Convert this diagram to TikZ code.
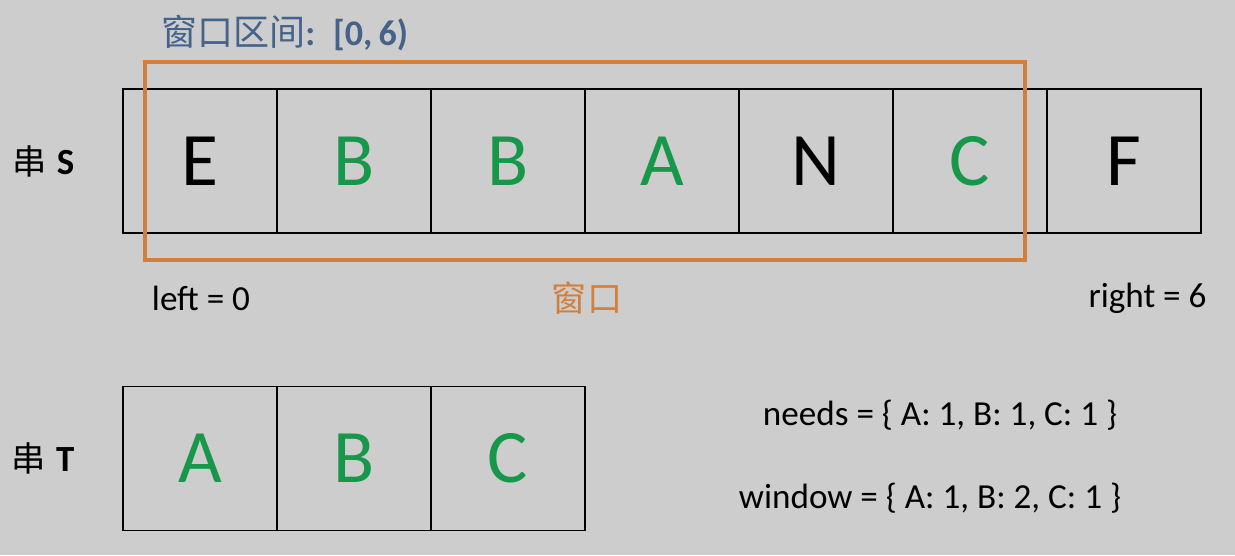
\documentclass[tikz,border=0pt]{standalone}
\usepackage{fontspec}
\setmainfont{Carlito}
\newfontfamily\cjk{Noto Sans CJK SC}
\usetikzlibrary{positioning}
\definecolor{bggray}{HTML}{CDCDCD}
\definecolor{wingreen}{HTML}{17974A}
\definecolor{winorange}{HTML}{D27F3D}
\definecolor{titleblue}{HTML}{44628A}

\begin{document}
\begin{tikzpicture}[
  node distance=0cm and 0cm,
  cell/.style={draw,line width=1.1pt,outer sep=0pt,minimum width=3.08cm,minimum height=2.88cm,
    inner sep=0pt,font=\fontsize{43}{43}\selectfont},
  hit/.style={cell,text=wingreen},
  winbox/.style={draw=winorange,line width=2.3pt},
  lbl/.style={font=\fontsize{20}{22}\selectfont},
  strlbl/.style={font=\fontsize{19.5}{20}\selectfont},
  title/.style={font=\fontsize{20.5}{22}\selectfont,text=titleblue}
]
\fill[bggray] (0,0) rectangle (24.7,11.1);
\useasboundingbox (0,0) rectangle (24.7,11.1);
% string S
\node[cell] (s0) at (4.0,7.88) {E};
\node[hit,right=of s0] (s1) {B};
\node[hit,right=of s1] (s2) {B};
\node[hit,right=of s2] (s3) {A};
\node[cell,right=of s3] (s4) {N};
\node[hit,right=of s4] (s5) {C};
\node[cell,right=of s5] (s6) {F};
\node[strlbl,left=0.85cm of s0] (labS) {{\cjk 串}\hspace{0.3em}{\fontsize{21}{21}\selectfont\textbf{S}}};
% window
\draw[winbox] (2.9,5.9) rectangle (20.5,9.86);
\node[title,anchor=west] (head) at (3.1,10.44) {{\cjk 窗口区间}\textbf{:\hspace{0.5em}[0,\,6)}};
\node[lbl] (left) at (4.02,5.14) {left = 0};
\node[lbl,text=winorange] (winlbl) at (11.74,5.14) {\cjk 窗口};
\node[lbl] (right) at (22.95,5.14) {right = 6};
% string T
\node[hit] (t0) at (4.0,1.93) {A};
\node[hit,right=of t0] (t1) {B};
\node[hit,right=of t1] (t2) {C};
\node[strlbl,left=0.85cm of t0] (labT) {{\cjk 串}\hspace{0.3em}{\fontsize{21}{21}\selectfont\textbf{T}}};
% maps
\node[lbl] (needs) at (18.8,2.8) {needs = \{ A: 1, B: 1, C: 1 \}};
\node[lbl] (window) at (18.6,1.14) {window = \{ A: 1, B: 2, C: 1 \}};
\end{tikzpicture}
\end{document}
